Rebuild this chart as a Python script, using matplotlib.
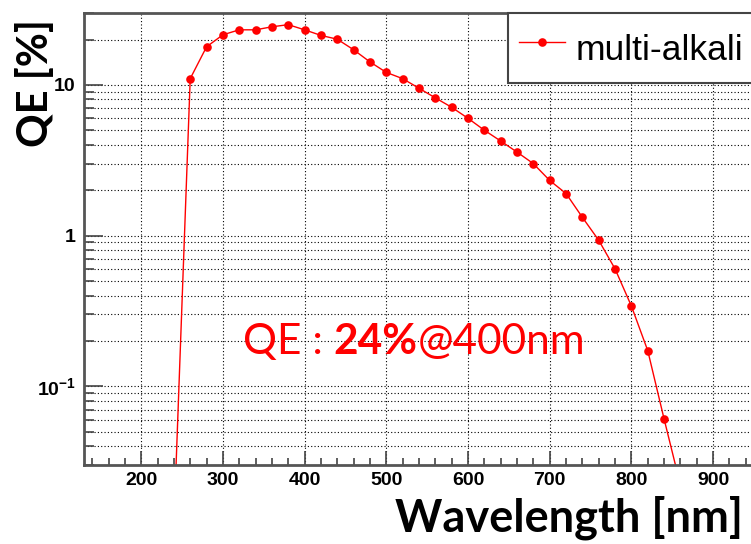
import matplotlib
matplotlib.use("Agg")
import matplotlib.pyplot as plt
from matplotlib.ticker import MultipleLocator, LogLocator, FixedLocator, FuncFormatter


wavelength = [240, 260, 280, 300, 320, 340, 360, 380, 400, 420, 440, 460,
              480, 500, 520, 540, 560, 580, 600, 620, 640, 660, 680, 700,
              720, 740, 760, 780, 800, 820, 840, 860]
qe = [0.012, 11.0, 17.9, 21.5, 23.2, 23.2, 24.3, 25.1, 23.2, 21.3, 20.1, 17.1,
      14.2, 12.1, 11.0, 9.5, 8.2, 7.1, 6.0, 5.0, 4.24, 3.58, 3.0, 2.32,
      1.90, 1.32, 0.93, 0.60, 0.34, 0.172, 0.0605, 0.022]

series_label = "multi-alkali"
y_tick_values = [0.1, 1, 10]
y_tick_labels = [r"$10^{-1}$", "1", "10"]

plt.rcParams["mathtext.fontset"] = "custom"
plt.rcParams["mathtext.bf"] = "Liberation Sans:bold"
plt.rcParams["mathtext.rm"] = "Liberation Sans:bold"
plt.rcParams["mathtext.default"] = "bf"

W, H = 751, 544
fig = plt.figure(figsize=(W / 100, H / 100), dpi=100)
ax = fig.add_axes([84 / W, 79 / H, 670 / W, 452 / H])

ax.plot(wavelength, qe, color="red", lw=1.0, marker="o", markersize=6.2,
        markeredgewidth=0, label=series_label)

ax.set_yscale("log")
ax.set_xlim(130, 950)
ax.set_ylim(0.03, 30)

ax.xaxis.set_major_locator(MultipleLocator(100))
ax.xaxis.set_minor_locator(MultipleLocator(20))
ax.yaxis.set_major_locator(FixedLocator(y_tick_values))
ax.yaxis.set_minor_locator(LogLocator(base=10, subs=range(2, 10)))
ax.yaxis.set_minor_formatter(FuncFormatter(lambda v, p: ""))
ax.yaxis.set_major_formatter(FuncFormatter(
    lambda v, p: y_tick_labels[y_tick_values.index(v)] if v in y_tick_values else ""))

for lab in ax.get_xticklabels() + ax.get_yticklabels():
    lab.set_fontfamily("Liberation Sans")
    lab.set_fontweight("bold")

ax.tick_params(axis="x", which="major", direction="in", length=10, width=1.2,
               color="#444444", pad=5, labelsize=14)
ax.tick_params(axis="x", which="minor", direction="in", length=5, width=1.2,
               color="#444444")
ax.tick_params(axis="y", which="major", direction="in", length=14, width=1.2,
               color="#444444", pad=6, labelsize=14)
ax.tick_params(axis="y", which="minor", direction="in", length=7, width=1.2,
               color="#444444")

ax.grid(True, axis="x", which="major", color="black", lw=0.8, linestyle=(0, (1, 2)))
ax.grid(True, axis="y", which="both", color="black", lw=0.8, linestyle=(0, (1, 2)))

for side in ["top", "left", "bottom", "right"]:
    ax.spines[side].set_color("#555555")
    ax.spines[side].set_linewidth(2)

ax.set_ylabel("QE [%]", fontfamily="Lato", fontweight="bold", fontsize=30,
              ha="center", va="center")
ax.yaxis.set_label_coords(-0.072, 0.845)
ax.set_xlabel("Wavelength [nm]", fontfamily="Lato", fontweight="bold",
              fontsize=32.5, ha="right", va="center")
ax.xaxis.set_label_coords(0.9836, -0.117)

leg = ax.legend(loc="upper right", bbox_to_anchor=(1.0, 1.0), borderaxespad=0,
                prop={"family": "Liberation Sans", "size": 25.5},
                handlelength=1.3, handletextpad=0.3, borderpad=0.3,
                handleheight=1.75, fancybox=False, framealpha=1)
leg.get_frame().set_edgecolor("#444444")
leg.get_frame().set_linewidth(1.5)

# annotation: regular / bold / regular pieces chained together
t1 = ax.text(324, 0.147, "QE : ", color="red", fontsize=30.5,
             family="Lato", va="bottom")
t2 = ax.annotate("24%", xy=(1, 0), xycoords=t1, color="red", fontsize=30.5,
                 family="Lato", fontweight="bold", va="bottom")
t3 = ax.annotate("@400nm", xy=(1, 0), xycoords=t2, color="red", fontsize=30.5,
                 family="Lato", va="bottom")

fig.savefig("out.png", dpi=100)
